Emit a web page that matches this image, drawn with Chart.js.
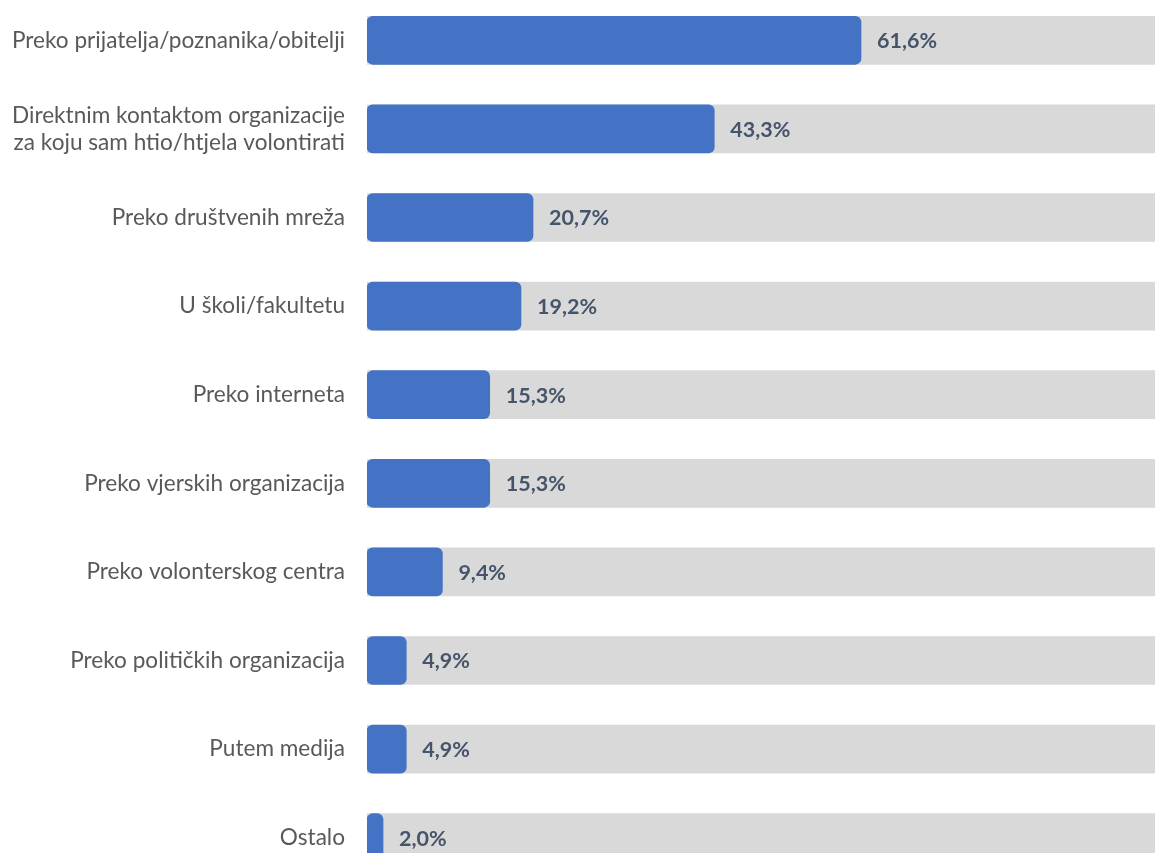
<!DOCTYPE html>
<html>
<head>
<meta charset="utf-8">
<script src="https://cdn.jsdelivr.net/npm/chart.js@4"></script>
<style>
  html, body { margin: 0; padding: 0; overflow: hidden; background: #ffffff; width: 1155px; height: 853px; }
  #wrap { position: absolute; left: 0; top: -4px; width: 1169px; height: 886px; }
</style>
</head>
<body>
<div id="wrap"><canvas id="c"></canvas></div>
<script>
const categories = [
  "Preko prijatelja/poznanika/obitelji",
  ["Direktnim kontaktom organizacije", "za koju sam htio/htjela volontirati"],
  "Preko društvenih mreža",
  "U školi/fakultetu",
  "Preko interneta",
  "Preko vjerskih organizacija",
  "Preko volonterskog centra",
  "Preko političkih organizacija",
  "Putem medija",
  "Ostalo"
];
const values = [61.6, 43.3, 20.7, 19.2, 15.3, 15.3, 9.4, 4.9, 4.9, 2.0];
const background = [100, 100, 100, 100, 100, 100, 100, 100, 100, 100];

const valueLabels = {
  id: 'valueLabels',
  afterDatasetsDraw(chart) {
    const ctx = chart.ctx;
    const meta = chart.getDatasetMeta(1);
    ctx.save();
    ctx.font = 'bold 21.5px Lato';
    ctx.fillStyle = '#44546A';
    ctx.textAlign = 'left';
    ctx.textBaseline = 'middle';
    meta.data.forEach((bar, i) => {
      ctx.fillText(values[i].toFixed(1).replace('.', ',') + '%', bar.x + 16, bar.y + 1);
    });
    ctx.restore();
  }
};

new Chart(document.getElementById('c'), {
  type: 'bar',
  data: {
    labels: categories,
    datasets: [
      { data: background, backgroundColor: '#D9D9D9', barThickness: 48, borderRadius: 0, order: 2 },
      { data: values, backgroundColor: '#4472C4', barThickness: 48, borderRadius: 6, borderSkipped: false, order: 1 }
    ]
  },
  options: {
    indexAxis: 'y',
    responsive: true,
    maintainAspectRatio: false,
    animation: false,
    layout: { padding: 0 },
    plugins: { legend: { display: false }, tooltip: { enabled: false } },
    datasets: { bar: { grouped: false } },
    scales: {
      x: { display: false, min: 0, max: 100 },
      y: {
        grid: { display: false },
        border: { display: false },
        afterFit(scale) { scale.width = 367; scale.paddingTop = 0; scale.paddingBottom = 0; },
        ticks: { color: '#595959', font: { family: 'Lato', size: 22.6 }, padding: 14 }
      }
    }
  },
  plugins: [valueLabels]
});
</script>
</body>
</html>
